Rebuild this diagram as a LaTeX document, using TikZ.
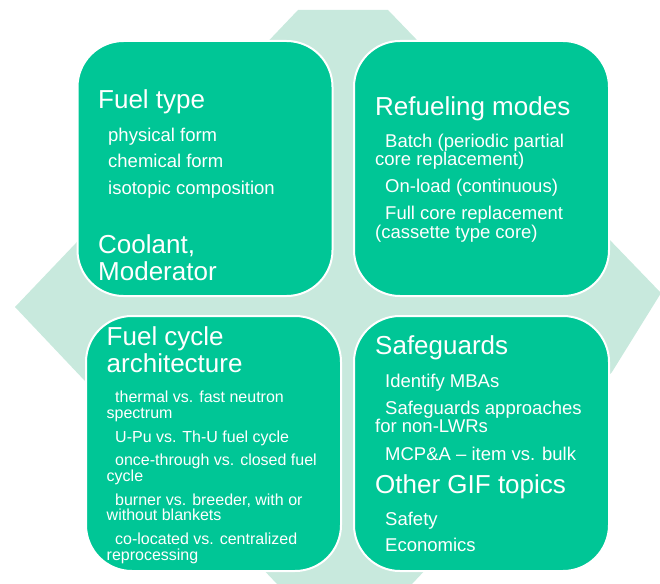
\documentclass[tikz,border=0pt]{standalone}
\usepackage{fontspec}
\setmainfont{Liberation Sans}
\definecolor{boxgreen}{RGB}{0,198,150}
\definecolor{bggreen}{RGB}{200,233,221}
\begin{document}
\begin{tikzpicture}[x=1pt,y=-1pt,
  box/.style={draw=white, line width=2pt, fill=boxgreen, rounded corners=46pt, minimum width=255pt, minimum height=255pt, inner sep=0pt},
  txt/.style={anchor=base west, inner sep=0pt, text=white},
  hd/.style={txt, font=\fontsize{26}{27}\selectfont},
  sb/.style={txt, font=\fontsize{18.5}{20}\selectfont},
  sm/.style={txt, font=\fontsize{16}{17}\selectfont}]
\useasboundingbox (0,0) rectangle (660,583);
\fill[bggreen] (298,10) -- (388,10) -- (661,293) -- (612,372) -- (412,584) -- (277,584) -- (15,307) -- cycle;
% boxes
\node[box] (tl) at (205,168.5) {};
\node[box] (tr) at (481.5,168.5) {};
\node[box] (bl) at (213.5,443.5) {};
\node[box] (br) at (481.5,443.5) {};
% top left
\node[hd] (tlh1) at (98,109) {Fuel type};
\node[sb] (tl1) at (108,141) {physical form};
\node[sb] (tl2) at (108,167.5) {chemical form};
\node[sb] (tl3) at (108,194.5) {isotopic composition};
\node[hd] (tlh2) at (98,253) {Coolant,};
\node[hd] (tlh3) at (98,280) {Moderator};
% top right
\node[hd] (trh1) at (375,115) {Refueling modes};
\node[sb] (tr1) at (385,147.7) {Batch (periodic partial};
\node[sb] (tr1b) at (375,165.7) {core replacement)};
\node[sb] (tr2) at (385,192.5) {On-load (continuous)};
\node[sb] (tr3) at (385,219.3) {Full core replacement};
\node[sb] (tr3b) at (375,238) {(cassette type core)};
% bottom left
\node[hd] (blh1) at (106.5,345.7) {Fuel cycle};
\node[hd] (blh2) at (106.5,372.7) {architecture};
\node[sm] (bl1) at (115,402.7) {thermal vs. fast neutron};
\node[sm] (bl1b) at (106.5,418.3) {spectrum};
\node[sm] (bl2) at (115,442.3) {U-Pu vs. Th-U fuel cycle};
\node[sm] (bl3) at (115,465.7) {once-through vs. closed fuel};
\node[sm] (bl3b) at (106.5,481) {cycle};
\node[sm] (bl4) at (115,505) {burner vs. breeder, with or};
\node[sm] (bl4b) at (106.5,520.7) {without blankets};
\node[sm] (bl5) at (115,544) {co-located vs. centralized};
\node[sm] (bl5b) at (106.5,560) {reprocessing};
% bottom right
\node[hd] (brh1) at (375,354.3) {Safeguards};
\node[sb] (br1) at (385,387.7) {Identify MBAs};
\node[sb] (br2) at (385,414.3) {Safeguards approaches};
\node[sb] (br2b) at (375,432.7) {for non-LWRs};
\node[sb] (br3) at (385,460) {MCP\&A – item vs. bulk};
\node[hd] (brh2) at (375,493.3) {Other GIF topics};
\node[sb] (br4) at (385,525) {Safety};
\node[sb] (br5) at (385,551.7) {Economics};
\end{tikzpicture}
\end{document}
